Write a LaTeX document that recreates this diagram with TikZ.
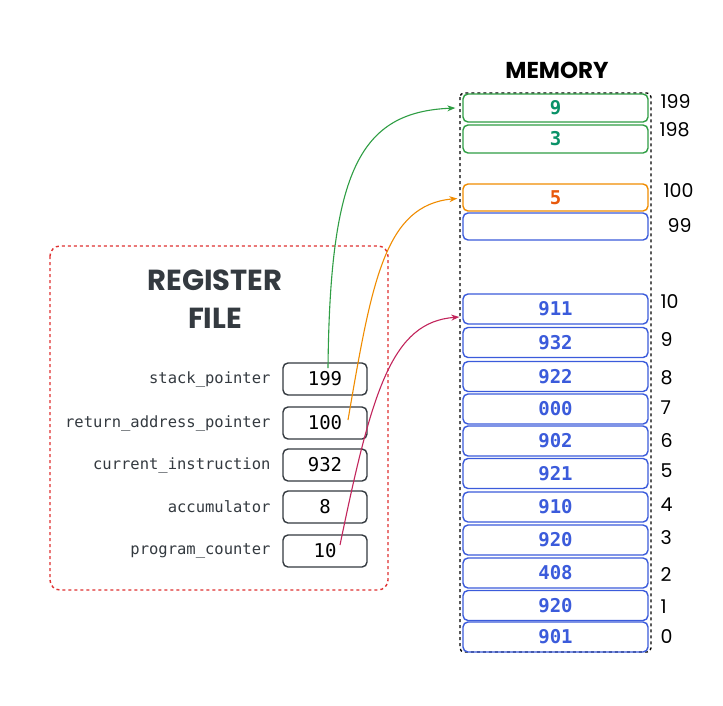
\documentclass[tikz,border=0pt]{standalone}
\usepackage{fontspec}
\setmonofont{DejaVu Sans Mono}
\newfontfamily\handfont{Poppins}
\usetikzlibrary{arrows.meta}
\definecolor{regred}{HTML}{E03131}
\definecolor{inkgray}{HTML}{343A40}
\definecolor{stackgreen}{HTML}{2F9E44}
\definecolor{stacktext}{HTML}{099268}
\definecolor{retorange}{HTML}{F08C00}
\definecolor{rettext}{HTML}{E8590C}
\definecolor{progblue}{HTML}{3B5BDB}
\definecolor{pcred}{HTML}{C2255C}
\tikzset{
  cell/.style={draw, rounded corners=5pt, line width=1.4pt, minimum width=185pt,
    minimum height=29pt, inner sep=0pt, font=\ttfamily\bfseries\fontsize{19}{19}\selectfont},
  regbox/.style={draw=inkgray, rounded corners=5pt, line width=1.4pt, minimum width=84pt,
    minimum height=32pt, inner sep=0pt, font=\ttfamily\fontsize{19}{19}\selectfont},
  reglabel/.style={anchor=east, text=inkgray, font=\ttfamily\fontsize{15.5}{15.5}\selectfont},
  addr/.style={anchor=west, font=\handfont\fontsize{19}{19}\selectfont},
  pointer/.style={line width=1.1pt, -{Stealth[length=8pt,width=6pt]}}
}
\begin{document}
\begin{tikzpicture}[x=1pt,y=-1pt]
\useasboundingbox[fill=white] (0,0) rectangle (723,705);
% register file
\draw[regred, dashed, line width=1.4pt, rounded corners=10pt] (50,246) rectangle (388,590);
\node[text=inkgray, align=center, font=\handfont\bfseries\fontsize{29}{38}\selectfont] (regtitle) at (215,299) {REGISTER\\FILE};
\foreach \n/\y/\name/\val in {sp/379/stack\_pointer/199, ra/423/return\_address\_pointer/100,
    ci/465/current\_instruction/932, acc/507/accumulator/8, pc/551/program\_counter/10} {
  \node[regbox] (\n) at (325,\y) {\val};
  \node[reglabel] (\n-label) at (274,\y) {\name};
}
% memory
\draw[dashed, line width=1.3pt, rounded corners=4pt] (460,93) rectangle (651,652);
\node[font=\handfont\bfseries\fontsize{23}{23}\selectfont] (memtitle) at (557,70) {MEMORY};
\node[cell, draw=stackgreen, text=stacktext, minimum height=28pt] (m199) at (555.5,108) {9};
\node[cell, draw=stackgreen, text=stacktext, minimum height=28pt] (m198) at (555.5,139) {3};
\node[cell, draw=retorange, text=rettext, minimum height=27pt] (m100) at (555.5,197.5) {5};
\node[cell, draw=progblue, minimum height=27pt] (m99) at (555.5,226.5) {};
\node[addr] (a199) at (657,102) {199};
\node[addr] (a198) at (656,130) {198};
\node[addr] (a100) at (660,191) {100};
\node[addr] (a99) at (664,226) {99};
\foreach \y/\v/\a/\ay in {309/911/10/302, 342.5/932/9/340, 376.5/922/8/378, 409/000/7/408,
    441/902/6/440, 473.5/921/5/471, 507/910/4/505, 540/920/3/538, 573/408/2/574,
    605.5/920/1/607, 637/901/0/637} {
  \node[cell, draw=progblue, text=progblue, minimum height=30pt] (m\a) at (555.5,\y) {\v};
  \node[addr] (a\a) at (657,\ay) {\a};
}
% pointers
\draw[pointer, stackgreen] ([xshift=3pt,yshift=11pt]sp.center) .. controls (330,170) and (360,112) .. ([xshift=-7pt]m199.west);
\draw[pointer, retorange] ([xshift=23pt,yshift=3pt]ra.center) .. controls (372,280) and (385,205) .. ([xshift=-5pt,yshift=-1pt]m100.west);
\draw[pointer, pcred] ([xshift=15pt,yshift=6pt]pc.center) .. controls (372,390) and (392,322) .. ([xshift=-3pt,yshift=-8pt]m10.west);
\end{tikzpicture}
\end{document}
